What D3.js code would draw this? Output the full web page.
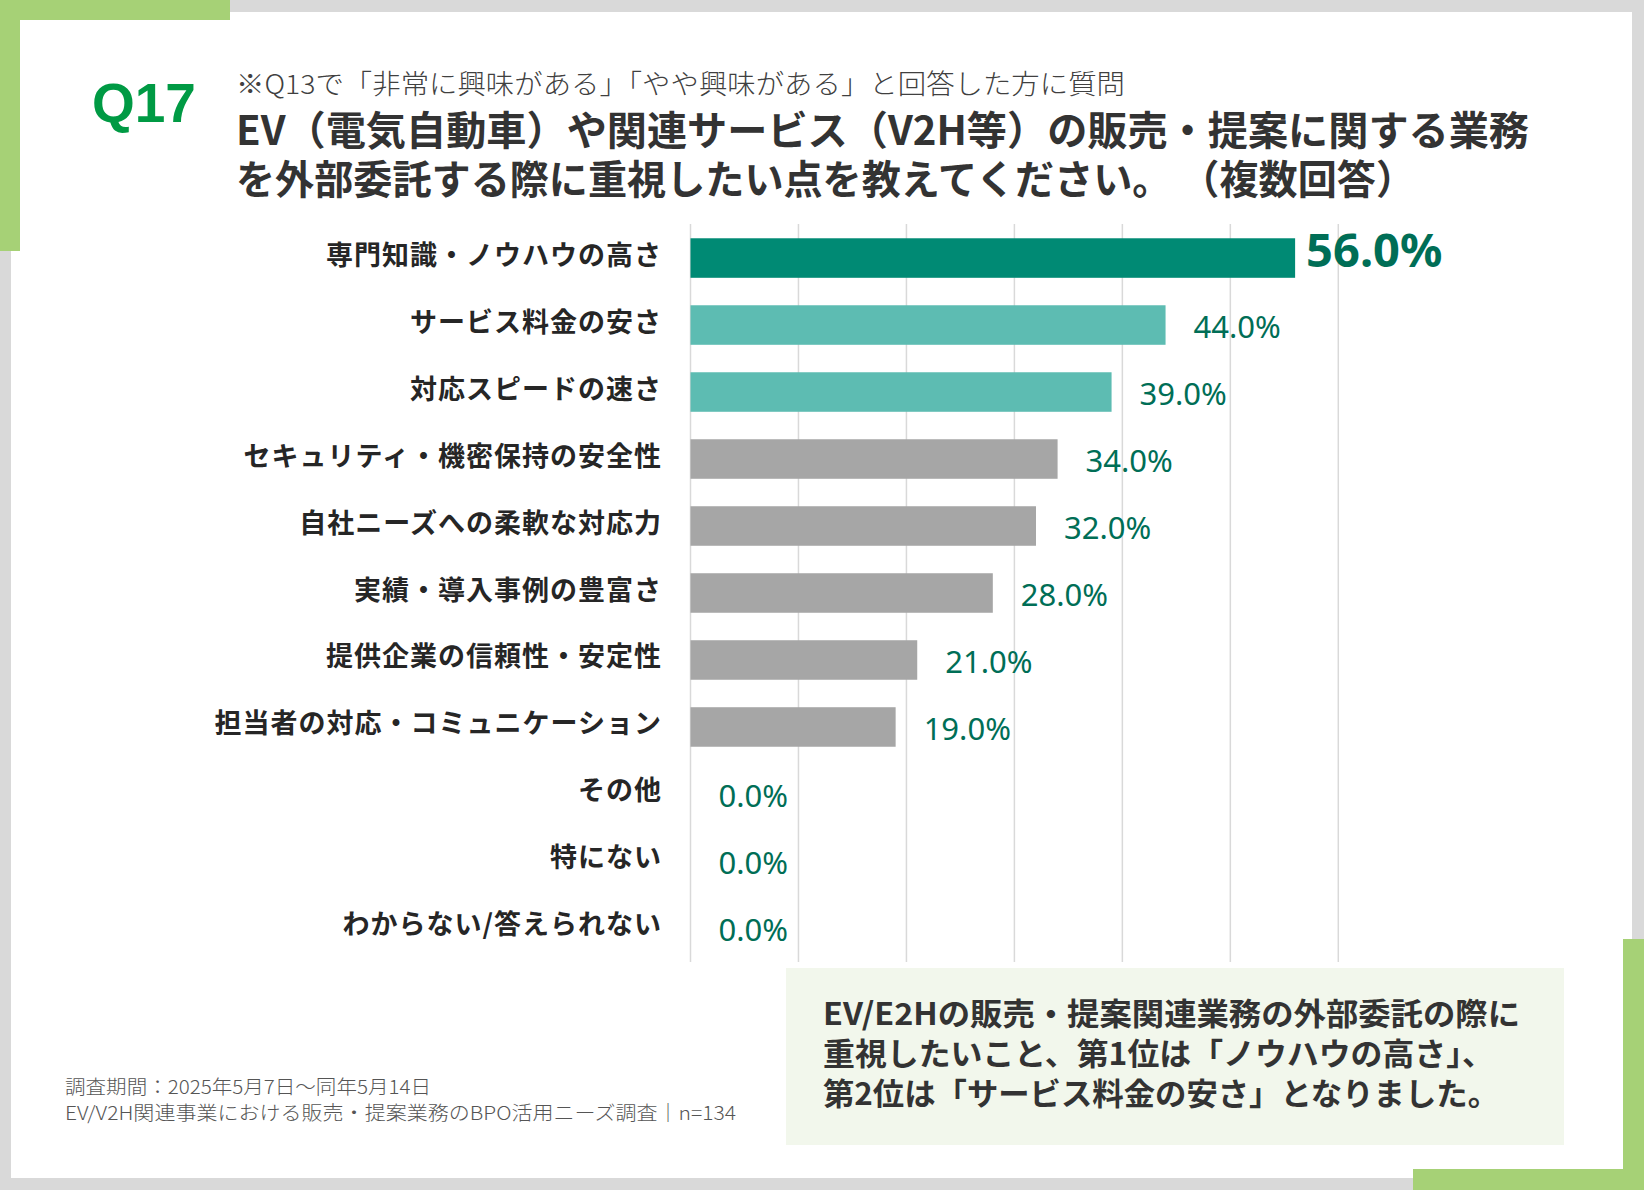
<!DOCTYPE html>
<html><head><meta charset="utf-8">
<script src="https://cdn.jsdelivr.net/npm/d3@7"></script>
<style>
html,body{margin:0;padding:0;background:#fff;overflow:hidden}
#wrap{position:relative;width:1644px;height:1190px}
#c{position:absolute;left:0;top:0}
.ln{position:absolute;white-space:nowrap;transform-origin:0 50%;font-family:'Noto Sans CJK JP','Noto Sans',sans-serif}
</style>
</head><body>
<div id="wrap"><svg id="c" width="1644" height="1190"></svg></div>
<script>
const categories = [
  "専門知識・ノウハウの高さ",
  "サービス料金の安さ",
  "対応スピードの速さ",
  "セキュリティ・機密保持の安全性",
  "自社ニーズへの柔軟な対応力",
  "実績・導入事例の豊富さ",
  "提供企業の信頼性・安定性",
  "担当者の対応・コミュニケーション",
  "その他",
  "特にない",
  "わからない/答えられない"
];
const values = [56.0, 44.0, 39.0, 34.0, 32.0, 28.0, 21.0, 19.0, 0.0, 0.0, 0.0];
const xTicks = [0, 10, 20, 30, 40, 50, 60];
const qLabel = "Q17";
const subtitle = "※Q13で「非常に興味がある」「やや興味がある」と回答した方に質問";
const titleLines = [
  "EV（電気自動車）や関連サービス（V2H等）の販売・提案に関する業務",
  "を外部委託する際に重視したい点を教えてください。 （複数回答）"
];
const footerLines = [
  "調査期間：2025年5月7日〜同年5月14日",
  "EV/V2H関連事業における販売・提案業務のBPO活用ニーズ調査｜n=134"
];
const summaryLines = [
  "EV/E2Hの販売・提案関連業務の外部委託の際に",
  "重視したいこと、第1位は「ノウハウの高さ」、",
  "第2位は「サービス料金の安さ」となりました。"
];

const JP = "'Noto Sans CJK JP','Noto Sans',sans-serif";
const svg = d3.select("#c");
const wrap = d3.select("#wrap");
const W = 1644, H = 1190;
const green = "#a6d176";

// frame
svg.append("rect").attr("width", W).attr("height", H).attr("fill", "#d9d9d9");
svg.append("rect").attr("x", 11).attr("y", 12).attr("width", 1621).attr("height", 1166).attr("fill", "#fff");
svg.append("rect").attr("x", 0).attr("y", 0).attr("width", 230).attr("height", 20).attr("fill", green);
svg.append("rect").attr("x", 0).attr("y", 0).attr("width", 20).attr("height", 251).attr("fill", green);
svg.append("rect").attr("x", 1413).attr("y", 1169).attr("width", 231).attr("height", 21).attr("fill", green);
svg.append("rect").attr("x", 1623).attr("y", 939).attr("width", 21).attr("height", 251).attr("fill", green);

// header
svg.append("text").attr("x", 92).attr("y", 122).text(qLabel)
  .attr("font-family", "'Liberation Sans',Arial,sans-serif").attr("font-weight", 700)
  .attr("font-size", 55).attr("fill", "#009a44");
svg.append("text").attr("x", 236).attr("y", 82.5).attr("dominant-baseline", "central")
  .text(subtitle).attr("font-family", JP).attr("font-weight", 300).attr("font-size", 27)
  .attr("fill", "#404040").attr("textLength", 889).attr("lengthAdjust", "spacingAndGlyphs");

// multi-line text blocks as HTML lines with fixed line height
function htmlLines(lines, x, ys, widths, size, weight, color, lh) {
  lines.forEach((s, i) => {
    const d = wrap.append("div").attr("class", "ln")
      .style("left", x + "px").style("top", (ys[i] - lh / 2) + "px")
      .style("height", lh + "px").style("line-height", lh + "px")
      .style("font-size", size + "px").style("font-weight", weight).style("color", color)
      .text(s);
    const w = d.node().getBoundingClientRect().width;
    d.style("transform", `scaleX(${widths[i] / w})`);
  });
}
htmlLines(titleLines, 236, [128, 176.5], [1293, 1179], 40, 700, "#333", 46);

// chart
const x = d3.scaleLinear().domain([0, 60]).range([690.5, 1338.3]);
const y = d3.scaleBand().domain(categories).range([224, 962]).paddingInner(0.41).paddingOuter(0.213);

svg.append("g").selectAll("line").data(xTicks).join("line")
  .attr("x1", d => x(d)).attr("x2", d => x(d)).attr("y1", 224).attr("y2", 962)
  .attr("stroke", "#d9d9d9").attr("stroke-width", 1.5);

const colorFor = i => i === 0 ? "#008a74" : (i <= 2 ? "#5dbcb2" : "#a6a6a6");
const data = categories.map((c, i) => ({c, v: values[i], i}));

svg.append("g").selectAll("rect").data(data).join("rect")
  .attr("x", x(0)).attr("y", d => y(d.c))
  .attr("width", d => x(d.v) - x(0)).attr("height", y.bandwidth())
  .attr("fill", d => colorFor(d.i));

svg.append("g").selectAll("text").data(data).join("text")
  .attr("x", 662).attr("y", d => y(d.c) + y.bandwidth() / 2 - 5)
  .attr("text-anchor", "end").attr("dominant-baseline", "central")
  .attr("font-family", JP).attr("font-weight", 700).attr("font-size", 27)
  .attr("letter-spacing", 1).attr("fill", "#262626").text(d => d.c);

svg.append("g").selectAll("text").data(data).join("text")
  .attr("x", d => x(d.v) + (d.i === 0 ? 11 : 28))
  .attr("y", d => y(d.c) + y.bandwidth() / 2 + (d.i === 0 ? -9 : 1))
  .attr("dominant-baseline", "central")
  .attr("font-family", "'Noto Sans',sans-serif")
  .attr("font-weight", d => d.i === 0 ? 700 : 400)
  .attr("font-size", d => d.i === 0 ? 47 : 31)
  .attr("fill", "#006e56").text(d => d.v.toFixed(1) + "%");

// footer
const footY = [1085, 1111], footW = [366, 671];
footerLines.forEach((t, i) => {
  svg.append("text").attr("x", 65).attr("y", footY[i]).attr("dominant-baseline", "central")
    .text(t).attr("font-family", JP).attr("font-weight", 300).attr("font-size", 19)
    .attr("fill", "#555").attr("textLength", footW[i]).attr("lengthAdjust", "spacingAndGlyphs");
});

// summary box
svg.append("rect").attr("x", 786).attr("y", 968).attr("width", 778).attr("height", 177).attr("fill", "#f2f7ec");
htmlLines(summaryLines, 823, [1012, 1052, 1092], [697, 671, 676], 31, 700, "#333", 38);
</script>
</body></html>
